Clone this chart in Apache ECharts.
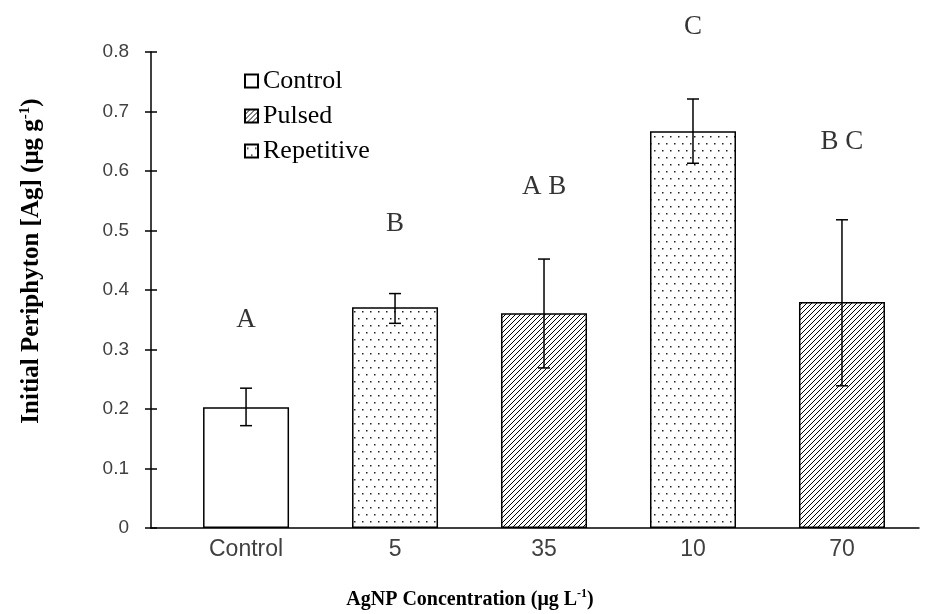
<!DOCTYPE html>
<html>
<head>
<meta charset="utf-8">
<title>Initial Periphyton Ag</title>
<script src="https://cdn.jsdelivr.net/npm/echarts@6/dist/echarts.min.js"></script>
<style>
  html, body { margin: 0; padding: 0; background: #fff; }
  #chart { width: 927px; height: 614px; }
</style>
</head>
<body>
<div id="chart"></div>
<script>
// data
var categories = ['Control', '5', '35', '10', '70'];
var treatment = ['Control', 'Repetitive', 'Pulsed', 'Repetitive', 'Pulsed'];
var means = [0.203, 0.371, 0.361, 0.667, 0.380];
var errLow = [0.172, 0.344, 0.269, 0.613, 0.239];
var errHigh = [0.235, 0.394, 0.452, 0.721, 0.518];
var letters = ['A', 'B', 'A B', 'C', 'B C'];
var letterY = [0.350, 0.511, 0.573, 0.842, 0.649];
var yTicks = [0, 0.1, 0.2, 0.3, 0.4, 0.5, 0.6, 0.7, 0.8];

// hatch fills
var _makeLines = function () {
    var c = document.createElement('canvas');
    c.width = 5; c.height = 5;
    var g = c.getContext('2d');
    g.fillStyle = '#fff';
    g.fillRect(0, 0, 5, 5);
    g.strokeStyle = '#000';
    g.lineWidth = 1;
    g.beginPath();
    g.moveTo(-1, 6); g.lineTo(6, -1);
    g.moveTo(-1, 1); g.lineTo(1, -1);
    g.moveTo(4, 6); g.lineTo(6, 4);
    g.stroke();
    return c;
};
var _makeDots = function () {
    var c = document.createElement('canvas');
    c.width = 8; c.height = 14;
    var g = c.getContext('2d');
    g.fillStyle = '#fff';
    g.fillRect(0, 0, 8, 14);
    g.fillStyle = '#222';
    g.fillRect(2, 3, 1.5, 1.5);
    g.fillRect(6, 10, 1.5, 1.5);
    return c;
};

var fills = {
    'Control': '#fff',
    'Pulsed': { image: _makeLines(), repeat: 'repeat' },
    'Repetitive': { image: _makeDots(), repeat: 'repeat' }
};

var _seriesData = function (name) {
    var out = [];
    for (var i = 0; i < categories.length; i++) {
        if (treatment[i] == name) out.push([i, means[i]]);
    }
    return out;
};

var serif = '"Liberation Serif", "Times New Roman", serif';
var sans = '"Liberation Sans", Arial, sans-serif';

var barSeries = ['Control', 'Pulsed', 'Repetitive'].map(function (name) {
    return {
        name: name,
        type: 'bar',
        barWidth: 86,
        barGap: '-100%',
        data: _seriesData(name),
        itemStyle: {
            color: fills[name],
            borderColor: '#000',
            borderWidth: 1.5
        },
        emphasis: { disabled: true }
    };
});

var errData = [];
for (var i = 0; i < categories.length; i++) {
    errData.push([i, errLow[i], errHigh[i]]);
}

var letterData = [];
for (var i = 0; i < categories.length; i++) {
    letterData.push({ value: [i, letterY[i]], name: letters[i] });
}

var myChart = echarts.init(document.getElementById('chart'));

var option = {
    animation: false,
    grid: { left: 151, right: 8, top: 52, bottom: 86 },
    legend: {
        data: ['Control', 'Pulsed', 'Repetitive'],
        orient: 'vertical',
        left: 239,
        top: 63,
        itemWidth: 13,
        itemHeight: 13,
        itemGap: 9,
        icon: 'rect',
        selectedMode: false,
        textStyle: { fontFamily: serif, fontSize: 26, color: '#000' }
    },
    xAxis: {
        type: 'value',
        min: -0.638,
        max: 4.517,
        splitLine: { show: false },
        axisLine: { onZero: false, lineStyle: { color: '#000', width: 1.5 } },
        axisTick: { show: false },
        axisLabel: {
            customValues: [0, 1, 2, 3, 4],
            formatter: function (v) { return categories[Math.round(v)]; },
            margin: 10,
            fontFamily: sans,
            fontSize: 23,
            color: '#404040'
        }
    },
    yAxis: [{
        type: 'value',
        min: 0,
        max: 0.8,
        interval: 0.1,
        splitLine: { show: false },
        axisLine: { show: true, onZero: false, lineStyle: { color: '#000', width: 1.5 } },
        axisTick: { show: true, length: 6, lineStyle: { color: '#000', width: 1.5 } },
        axisLabel: {
            margin: 22,
            fontFamily: sans,
            fontSize: 19,
            color: '#404040',
            formatter: function (v) { return yTicks.indexOf(Math.round(v * 10) / 10) >= 0 ? String(Math.round(v * 10) / 10) : ''; }
        }
    }, {
        type: 'value',
        position: 'left',
        min: 0,
        max: 0.8,
        interval: 0.1,
        splitLine: { show: false },
        axisLine: { show: false, onZero: false },
        axisTick: { show: true, inside: true, length: 6, lineStyle: { color: '#000', width: 1.5 } },
        axisLabel: { show: false }
    }],
    series: barSeries.concat([{
        type: 'custom',
        name: 'err',
        data: errData,
        z: 5,
        renderItem: function (params, api) {
            var x = api.value(0);
            var lo = api.coord([x, api.value(1)]);
            var hi = api.coord([x, api.value(2)]);
            var w = 6;
            var st = { stroke: '#000', lineWidth: 1.5 };
            return {
                type: 'group',
                children: [
                    { type: 'line', shape: { x1: lo[0], y1: lo[1], x2: hi[0], y2: hi[1] }, style: st },
                    { type: 'line', shape: { x1: lo[0] - w, y1: lo[1], x2: lo[0] + w, y2: lo[1] }, style: st },
                    { type: 'line', shape: { x1: hi[0] - w, y1: hi[1], x2: hi[0] + w, y2: hi[1] }, style: st }
                ]
            };
        }
    }, {
        type: 'scatter',
        name: 'letters',
        data: letterData,
        symbolSize: 0,
        clip: false,
        label: {
            show: true,
            position: 'inside',
            formatter: function (p) { return p.name; },
            fontFamily: serif,
            fontSize: 27,
            color: '#000'
        }
    }]),
    graphic: [{
        type: 'text',
        x: 32,
        y: 261,
        rotation: Math.PI / 2,
        style: {
            text: '{t|Initial Periphyton [Ag] (μg g}{s|-1}{t|)}',
            align: 'center',
            verticalAlign: 'middle',
            rich: {
                t: { fontFamily: serif, fontWeight: 'bold', fontSize: 25, fill: '#000', lineHeight: 28 },
                s: { fontFamily: serif, fontWeight: 'bold', fontSize: 15, fill: '#000', verticalAlign: 'top', lineHeight: 28 }
            }
        }
    }, {
        type: 'text',
        x: 470,
        y: 600,
        style: {
            text: '{t|AgNP Concentration (μg L}{s|-1}{t|)}',
            align: 'center',
            verticalAlign: 'middle',
            rich: {
                t: { fontFamily: serif, fontWeight: 'bold', fontSize: 20, fill: '#000', lineHeight: 24 },
                s: { fontFamily: serif, fontWeight: 'bold', fontSize: 12, fill: '#000', verticalAlign: 'top', lineHeight: 24 }
            }
        }
    }]
};

myChart.setOption(option);
</script>
</body>
</html>
